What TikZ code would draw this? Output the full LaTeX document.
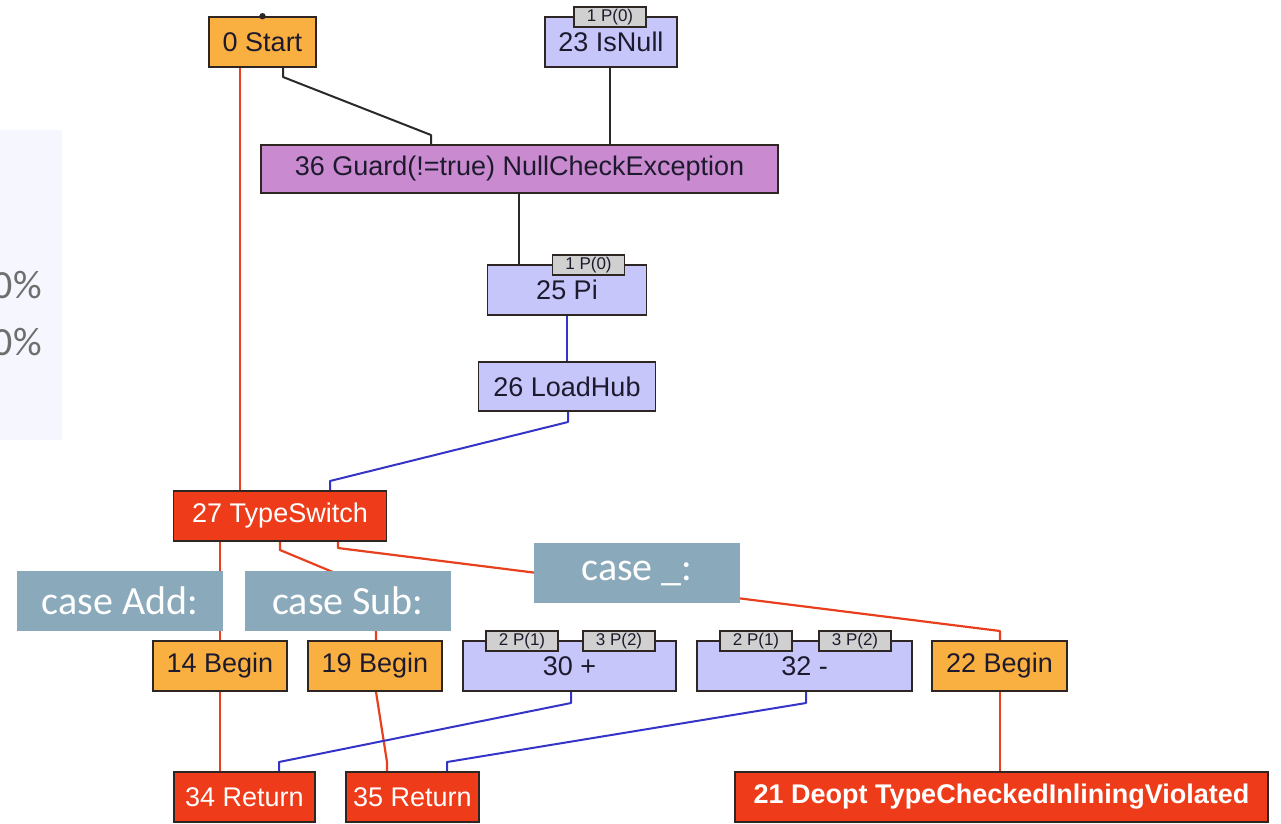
\documentclass[tikz,border=0pt]{standalone}
\usepackage{fontspec}
\setmainfont{Liberation Sans}
\newfontfamily\calibfont{Carlito}
\usetikzlibrary{backgrounds}

\definecolor{ctrlfill}{HTML}{FAB040}
\definecolor{datafill}{HTML}{C6C6FA}
\definecolor{guardfill}{HTML}{C98AD0}
\definecolor{endfill}{HTML}{EE3C1A}
\definecolor{boxline}{HTML}{2E2622}
\definecolor{ctrledge}{HTML}{E8401E}
\definecolor{dataedge}{HTML}{3434C8}
\definecolor{plainedge}{HTML}{2A2A2A}
\definecolor{tabfill}{HTML}{D0D0D0}
\definecolor{notefill}{HTML}{8AA9BA}
\definecolor{panelfill}{HTML}{F6F6FE}
\definecolor{paneltext}{HTML}{6E6E6E}
\definecolor{darktext}{HTML}{1E1A2E}

\begin{document}
\begin{tikzpicture}[x=1pt,y=-1pt,
  gnode/.style={draw=boxline, line width=1.6pt, inner sep=0pt,
    font=\fontsize{27}{30}\selectfont, text=darktext},
  ctrl/.style={gnode, fill=ctrlfill},
  data/.style={gnode, fill=datafill},
  guard/.style={gnode, fill=guardfill},
  term/.style={gnode, fill=endfill, text=white},
  intab/.style={draw=boxline, line width=1.4pt, fill=tabfill, inner sep=0pt,
    minimum width=72pt, minimum height=20pt,
    font=\fontsize{17}{18}\selectfont, text=darktext},
  note/.style={fill=notefill, text=white, inner sep=0pt,
    minimum width=206pt, minimum height=60pt,
    font=\calibfont\fontsize{40}{44}\selectfont},
  cedge/.style={draw=ctrledge, line width=2.2pt, line join=round},
  dedge/.style={draw=dataedge, line width=2pt, line join=round},
  pedge/.style={draw=plainedge, line width=2pt, line join=round}]

\useasboundingbox (0,0) rectangle (1281,823);
\clip (0,0) rectangle (1281,823);

% side panel
\begin{pgfonlayer}{background}
  \fill[panelfill] (-5,130) rectangle (62,440);
\end{pgfonlayer}
\node[anchor=east, inner sep=0pt, text=paneltext,
  font=\calibfont\fontsize{40}{44}\selectfont] (pa) at (42,285) {0\%};
\node[anchor=east, inner sep=0pt, text=paneltext,
  font=\calibfont\fontsize{40}{44}\selectfont] (pb) at (42,342) {0\%};

% graph nodes
\node[ctrl, minimum width=107pt, minimum height=50pt] (start) at (262.5,42) {0 Start};
\node[data, minimum width=132pt, minimum height=50pt] (isnull) at (611,42) {23 IsNull};
\node[guard, minimum width=517pt, minimum height=48pt] (guardn) at (519.5,169) {36 Guard(!=true) NullCheckException};
\node[data, minimum width=159pt, minimum height=50pt] (pi) at (567,290) {25 Pi};
\node[data, minimum width=177pt, minimum height=49pt] (loadhub) at (567,386.5) {26 LoadHub};
\node[term, minimum width=213pt, minimum height=50pt] (tswitch) at (280,516) {27 TypeSwitch};
\node[ctrl, minimum width=134pt, minimum height=50pt] (b14) at (220,666) {14 Begin};
\node[ctrl, minimum width=134pt, minimum height=50pt] (b19) at (375,666) {19 Begin};
\node[data, minimum width=213pt, minimum height=50pt] (addn) at (569.5,666) {\raisebox{-2pt}{30 +}};
\node[data, minimum width=215pt, minimum height=50pt] (subn) at (804.5,666) {\raisebox{-2pt}{32 -}};
\node[ctrl, minimum width=135pt, minimum height=50pt] (b22) at (999.5,666) {22 Begin};
\node[term, minimum width=141pt, minimum height=50pt] (r34) at (244.5,797) {34 Return};
\node[term, minimum width=133pt, minimum height=50pt] (r35) at (412.5,797) {35 Return};
\node[term, minimum width=533pt, minimum height=50pt, font=\bfseries\fontsize{27}{30}\selectfont] (deopt) at (1001.5,797) {21 Deopt TypeCheckedInliningViolated};

% input tabs
\node[intab] (t1) at (610,17) {1 P(0)};
\node[intab] (t2) at (588.5,265) {1 P(0)};
\node[intab] (t3) at (522,641) {2 P(1)};
\node[intab] (t4) at (619,641) {3 P(2)};
\node[intab] (t5) at (756,641) {2 P(1)};
\node[intab] (t6) at (855,641) {3 P(2)};

\fill[boxline] (start.north) circle (3.2pt);

% connectors
\begin{pgfonlayer}{background}
  \draw[cedge] (start.south -| 240,0) -- (tswitch.north -| 240,0);
  \draw[pedge] (start.south -| 283,0) -- (283,77) -- (431,135) -- (guardn.north -| 431,0);
  \draw[pedge] (isnull.south -| 610,0) -- (guardn.north -| 610,0);
  \draw[pedge] (guardn.south -| 519,0) -- (pi.north -| 519,0);
  \draw[dedge] (pi.south -| 567,0) -- (loadhub.north -| 567,0);
  \draw[dedge] (loadhub.south -| 568,0) -- (568,422) -- (330,481) -- (tswitch.north -| 330,0);
  \draw[cedge] (tswitch.south -| 220,0) -- (b14.north -| 220,0);
  \draw[cedge] (tswitch.south -| 280,0) -- (280,550) -- (376,590) -- (b19.north -| 376,0);
  \draw[cedge] (tswitch.south -| 338,0) -- (338,548) -- (1000,631) -- (b22.north -| 1000,0);
  \draw[cedge] (b14.south -| 220,0) -- (r34.north -| 220,0);
  \draw[cedge] (b19.south -| 376,0) -- (387,762) -- (r35.north -| 387,0);
  \draw[dedge] (addn.south -| 571,0) -- (571,703) -- (279,762) -- (r34.north -| 279,0);
  \draw[dedge] (subn.south -| 806,0) -- (806,703) -- (447,762) -- (r35.north -| 447,0);
  \draw[cedge] (b22.south -| 1000,0) -- (deopt.north -| 1000,0);
\end{pgfonlayer}

% case annotations
\node[note] (nadd) at (120,601) {case Add:};
\node[note] (nsub) at (348,601) {case Sub:};
\node[note] (nany) at (637,573) {case \_:};

\end{tikzpicture}
\end{document}
